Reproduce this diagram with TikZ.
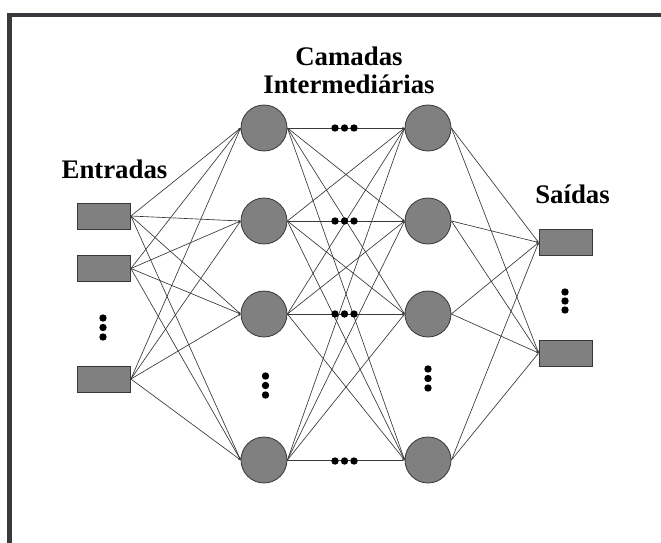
\documentclass[tikz,border=0pt]{standalone}
\usepackage{fontspec}
\setmainfont{Liberation Serif}
\usetikzlibrary{arrows.meta}
\definecolor{frame}{HTML}{3A3A3E}
\definecolor{shapefill}{HTML}{808080}
\definecolor{edge}{HTML}{383838}
\begin{document}
\begin{tikzpicture}[x=1pt,y=-1pt,
  neuron/.style={circle,draw=edge,fill=shapefill,minimum size=46pt,inner sep=0pt,line width=0.8pt},
  iobox/.style={rectangle,draw=edge,fill=shapefill,minimum width=53pt,minimum height=26pt,inner sep=0pt,line width=0.8pt},
  link/.style={draw=edge,line width=0.65pt,-{Stealth[length=2.5pt,width=2pt]}},
  bigdot/.style={circle,fill=black,inner sep=0pt,minimum size=7.4pt},
  lbl/.style={font=\fontsize{26.8}{27}\selectfont\bfseries,anchor=base,inner sep=0pt}]
\useasboundingbox (0,0) rectangle (661,543);
\fill[white] (0,0) rectangle (661,543);
% frame (top and left only)
\fill[frame] (7,13) rectangle (661,17.5);
\fill[frame] (7,13) rectangle (11.5,543);

% labels
\node[lbl] (tcam) at (349,66) {Camadas};
\node[lbl] (tint) at (349,93) {Intermediárias};
\node[lbl] (tin) at (114.5,178) {Entradas};
\node[lbl] (tout) at (572.5,203) {Saídas};

% inputs
\node[iobox] (i1) at (104,216) {};
\node[iobox] (i2) at (104,268.5) {};
\node[iobox] (i3) at (104,379) {};
% hidden layers
\foreach \n/\y in {1/128,2/221,3/314,4/460}{
  \node[neuron] (a\n) at (264,\y) {};
  \node[neuron] (b\n) at (428,\y) {};
}
% outputs
\node[iobox] (o1) at (565.5,242.5) {};
\node[iobox] (o2) at (565.5,353) {};

% connections
\foreach \i in {1,2,3}{
  \foreach \n in {1,2,3,4}{
    \draw[link] (i\i.east) -- (a\n.west);
  }
}
\foreach \m in {1,2,3,4}{
  \foreach \n in {1,2,3,4}{
    \draw[link] (a\m.east) -- (b\n.west);
  }
}
\foreach \m in {1,2,3,4}{
  \foreach \o in {1,2}{
    \draw[link] (b\m.east) -- (o\o.west);
  }
}

% ellipsis dots on horizontal links
\foreach \n/\y in {1/128,2/221,3/314,4/461}{
  \node[bigdot] (h\n a) at (335,\y) {};
  \node[bigdot] (h\n b) at (344.5,\y) {};
  \node[bigdot] (h\n c) at (354,\y) {};
}
% vertical ellipsis dots
\node[bigdot] (di1) at (103,318) {};
\node[bigdot] (di2) at (103,327.5) {};
\node[bigdot] (di3) at (103,337) {};
\node[bigdot] (da1) at (265.5,376) {};
\node[bigdot] (da2) at (265.5,385.5) {};
\node[bigdot] (da3) at (265.5,395) {};
\node[bigdot] (db1) at (428,369) {};
\node[bigdot] (db2) at (428,378.5) {};
\node[bigdot] (db3) at (428,388) {};
\node[bigdot] (do1) at (565,292) {};
\node[bigdot] (do2) at (565,301) {};
\node[bigdot] (do3) at (565,310) {};
\end{tikzpicture}
\end{document}
